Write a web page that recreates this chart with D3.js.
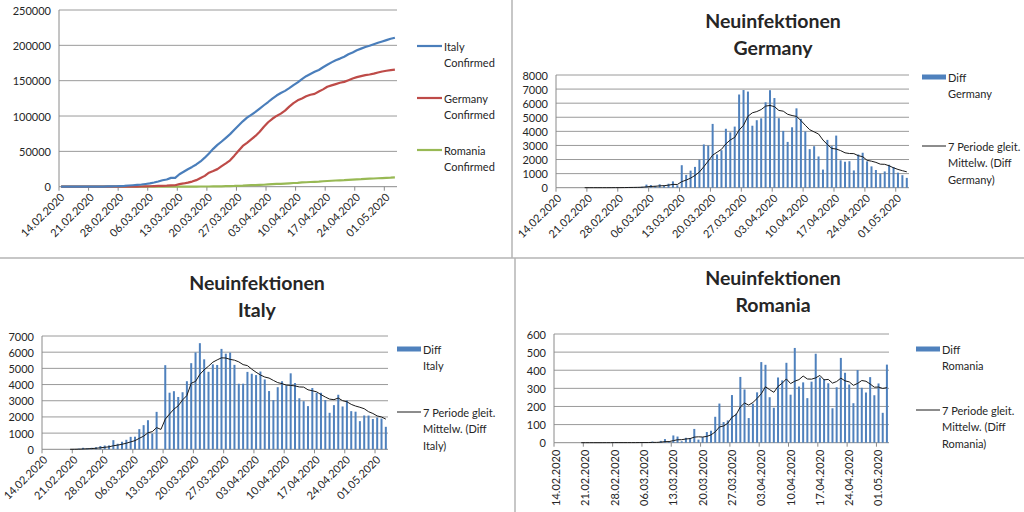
<!DOCTYPE html>
<html><head><meta charset="utf-8">
<script src="https://cdn.jsdelivr.net/npm/d3@7"></script>
<style>
body{margin:0;background:#fff}
svg{display:block}
text{font-family:Lato,'Liberation Sans',sans-serif;fill:#262626}
</style>
</head><body>
<svg id="c" width="1024" height="512"></svg>
<script>
// ---------- DATA ----------
// Days: 14.02.2020 ... 03.05.2020 (80 days)
const tickLabels = ["14.02.2020","21.02.2020","28.02.2020","06.03.2020","13.03.2020","20.03.2020",
  "27.03.2020","03.04.2020","10.04.2020","17.04.2020","24.04.2020","01.05.2020"];

const italyConfirmed = [3,3,3,3,3,3,3,20,62,155,229,322,453,655,888,1128,1694,2036,2502,3089,3858,4636,
  5883,7375,9172,10149,12462,12462,17660,21157,24747,27980,31506,35713,41035,47021,53578,59138,63927,
  69176,74386,80589,86498,92472,97689,101739,105792,110574,115242,119827,124632,128948,132547,135586,
  139422,143626,147577,152271,156363,159516,162488,165155,168941,172434,175925,178972,181228,183957,
  187327,189973,192994,195351,197675,199414,201505,203591,205463,207428,209328,210717];

const germanyConfirmed = [16,16,16,16,16,16,16,16,16,16,16,17,27,46,48,79,130,159,196,262,482,670,799,
  1040,1176,1457,1908,2078,3675,4585,5795,7272,9257,12327,15320,19848,22213,24873,29056,32986,37323,
  43938,50871,57695,62095,66885,71808,77872,84794,91159,96092,100123,103374,107663,113296,118181,
  122171,124908,127854,130072,131359,134753,137698,141397,143342,145184,147065,148291,150648,153129,
  154999,156513,157770,158758,159912,161539,163009,164077,164967,165664];

const romaniaConfirmed = [0,0,0,0,0,0,0,0,0,0,0,0,1,1,3,3,3,3,3,4,6,9,9,15,15,25,45,49,89,123,131,158,
  184,260,277,308,367,433,576,792,906,1029,1292,1452,1815,2109,2245,2460,2738,3183,3613,3864,4057,4417,
  4761,5202,5467,5990,6300,6633,6879,7216,7707,8067,8418,8746,8936,9242,9710,10096,10417,10635,11036,
  11339,11616,11978,12240,12567,12732,13163];

const countries = ["Italy","Germany","Romania"];
const confirmedBy = {Italy: italyConfirmed, Germany: germanyConfirmed, Romania: romaniaConfirmed};
const lineColors = {Italy:"#4a7ebb", Germany:"#be4b48", Romania:"#98b954"};
const barColor = "#4f81bd";
const maPeriod = 7;

// Derived series (as in the workbook): daily difference and 7-period moving average trendline
function diffOf(arr){ return arr.map((v,i)=> i===0 ? 0 : v - arr[i-1]); }
function movingAvg(arr,n){ const out=[]; for(let i=n-1;i<arr.length;i++){ out.push({i, v:d3.mean(arr.slice(i-n+1,i+1))}); } return out; }

// ---------- DRAW ----------
const svg = d3.select("#c");
const nDays = italyConfirmed.length;
const tickIdx = tickLabels.map((_,k)=>k*7);
const fs = 11;

// panel dividers
svg.append("line").attr("x1",512).attr("x2",512).attr("y1",0).attr("y2",258).attr("stroke","#b4b4b4").attr("stroke-width",1.5);
svg.append("line").attr("x1",515).attr("x2",515).attr("y1",258).attr("y2",512).attr("stroke","#b4b4b4").attr("stroke-width",1.5);
svg.append("line").attr("x1",0).attr("x2",1024).attr("y1",258).attr("y2",258).attr("stroke","#b4b4b4").attr("stroke-width",1.5);

function frame(spec){
  const g = svg.append("g");
  const x = d3.scaleLinear().domain([0,nDays]).range([spec.x0,spec.x1]);
  const y = d3.scaleLinear().domain([0,spec.max]).range([spec.yBot,spec.yTop]);
  const yTicks = d3.range(0, spec.max + spec.step/2, spec.step);
  g.selectAll(".grid").data(yTicks.filter(t=>t>0)).join("line")
    .attr("x1",spec.x0).attr("x2",spec.x1).attr("y1",d=>y(d)).attr("y2",d=>y(d))
    .attr("stroke","#9a9a9a").attr("stroke-width",1);
  g.selectAll(".yl").data(yTicks).join("text")
    .attr("x",spec.x0-8).attr("y",d=>y(d)).attr("text-anchor","end").attr("dominant-baseline","central")
    .attr("font-size",fs).text(d=>d);
  g.append("line").attr("x1",spec.x0).attr("x2",spec.x0).attr("y1",spec.yTop).attr("y2",spec.yBot).attr("stroke","#8a8a8a");
  g.append("line").attr("x1",spec.x0).attr("x2",spec.x1).attr("y1",spec.yBot).attr("y2",spec.yBot).attr("stroke","#8a8a8a");
  g.selectAll(".xt").data(tickIdx).join("line")
    .attr("x1",d=>x(d)).attr("x2",d=>x(d)).attr("y1",spec.yBot).attr("y2",spec.yBot+4).attr("stroke","#8a8a8a");
  g.selectAll(".xl").data(tickIdx).join("text")
    .attr("transform",d=> spec.vertical
        ? `translate(${x(d)+1.5},${spec.yBot+7}) rotate(-90)`
        : `translate(${x(d)+3},${spec.yBot+8}) rotate(-45)`)
    .attr("text-anchor","end").attr("dominant-baseline","central")
    .attr("font-size",fs).text((d,k)=>tickLabels[k]);
  return {g,x,y};
}

function title(cx, cy, lines){
  lines.forEach((t,k)=> svg.append("text").attr("x",cx).attr("y",cy+k*27).attr("text-anchor","middle")
    .attr("dominant-baseline","central").attr("font-size",19.5).attr("font-weight","bold").attr("fill","#000").text(t));
}

function legendText(x, y, lines){
  lines.forEach((t,k)=> svg.append("text").attr("x",x).attr("y",y+k*16.7).attr("dominant-baseline","central")
    .attr("font-size",fs).text(t));
}

// ---- Panel 1: Confirmed lines ----
{
  const spec = {x0:59, x1:397, yTop:10, yBot:186.7, max:250000, step:50000};
  const {g,x,y} = frame(spec);
  const line = d3.line().x((d,i)=>x(i+0.5)).y(d=>y(d));
  [...countries].reverse().forEach(c=>{
    g.append("path").attr("d",line(confirmedBy[c])).attr("fill","none")
      .attr("stroke",lineColors[c]).attr("stroke-width",2.2).attr("stroke-linejoin","round");
  });
  const ly = {Italy:46, Germany:98, Romania:150};
  countries.forEach(c=>{
    svg.append("line").attr("x1",417).attr("x2",442).attr("y1",ly[c]).attr("y2",ly[c])
      .attr("stroke",lineColors[c]).attr("stroke-width",2.2);
    legendText(444, ly[c], [c, "Confirmed"]);
  });
}

// ---- Bar panels ----
function barPanel(country, spec, tpos, leg){
  const diff = diffOf(confirmedBy[country]);
  const ma = movingAvg(diff, maPeriod);
  const {g,x,y} = frame(spec);
  const bw = 2;
  g.selectAll(".bar").data(diff).join("rect")
    .attr("x",(d,i)=>x(i+0.5)-bw/2).attr("width",bw)
    .attr("y",d=>y(Math.max(0,d))).attr("height",d=>spec.yBot-y(Math.max(0,d)))
    .attr("fill",barColor);
  g.append("path").attr("d", d3.line().x(d=>x(d.i+0.5)).y(d=>y(d.v))(ma))
    .attr("fill","none").attr("stroke","#1a1a1a").attr("stroke-width",1);
  title(tpos[0], tpos[1], ["Neuinfektionen", country]);
  svg.append("rect").attr("x",leg.x).attr("y",leg.y1-2.5).attr("width",24).attr("height",5).attr("fill",barColor);
  legendText(leg.x+26, leg.y1, ["Diff", country]);
  svg.append("line").attr("x1",leg.x).attr("x2",leg.x+24).attr("y1",leg.y2).attr("y2",leg.y2).attr("stroke","#1a1a1a");
  legendText(leg.x+26, leg.y2, ["7 Periode gleit.", "Mittelw. (Diff", country + ")"]);
}

barPanel("Germany", {x0:556, x1:909, yTop:75, yBot:187.7, max:8000, step:1000}, [773,20], {x:922, y1:77, y2:146});
barPanel("Italy",   {x0:42,  x1:388, yTop:336, yBot:449.3, max:7000, step:1000}, [257,282], {x:397, y1:349, y2:412});
barPanel("Romania", {x0:554, x1:889, yTop:334, yBot:442.7, max:600, step:100, vertical:true}, [773,277], {x:916, y1:349, y2:410});
</script>
</body></html>
